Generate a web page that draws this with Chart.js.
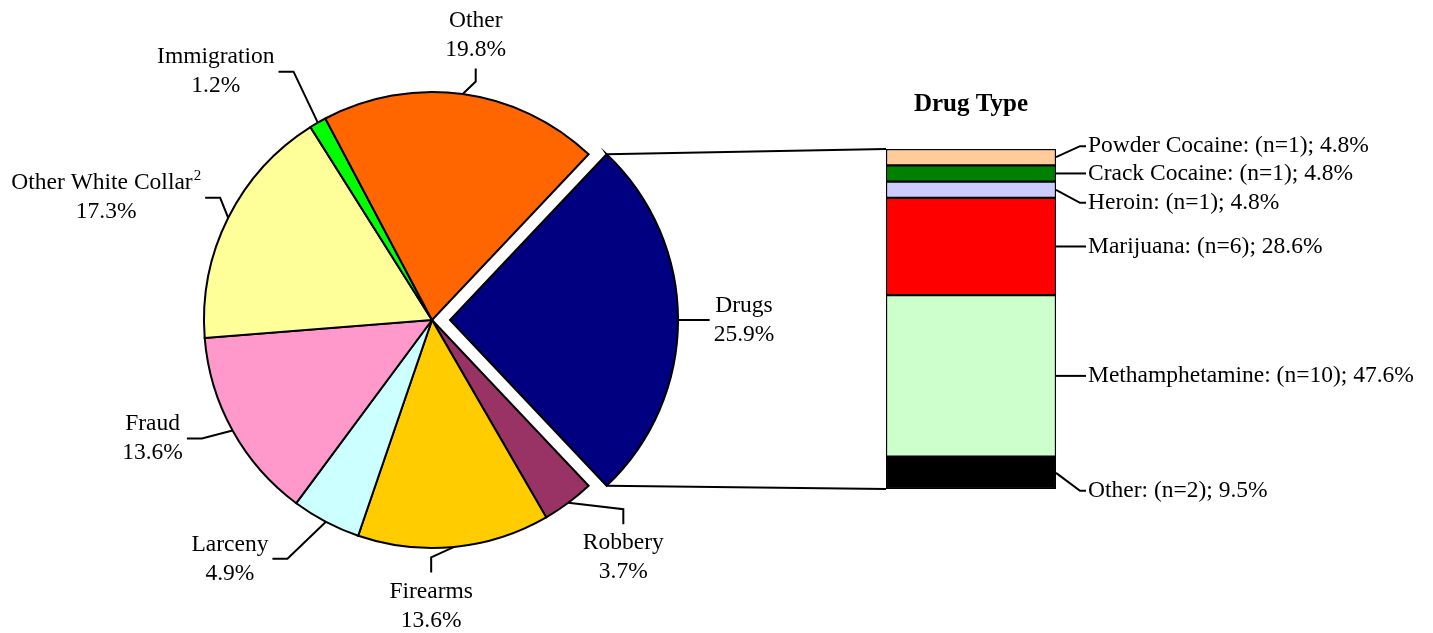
<!DOCTYPE html>
<html>
<head>
<meta charset="utf-8">
<script src="https://cdn.jsdelivr.net/npm/chart.js@4.4.1/dist/chart.umd.min.js"></script>
<style>
  body { margin: 0; background: #fff; }
  #wrap { position: relative; width: 1433px; height: 633px; }
  #wrap canvas { position: absolute; left: 0; top: 0; }
</style>
</head>
<body>
<div id="wrap">
  <canvas id="pie" width="1433" height="633"></canvas>
  <canvas id="drugbar" width="1433" height="633"></canvas>
</div>
<script>
// offense types, clockwise starting from the pulled out slice
var offenses = ["Drugs", "Robbery", "Firearms", "Larceny", "Fraud", "Other White Collar", "Immigration", "Other"];
var offensePct = [25.9, 3.7, 13.6, 4.9, 13.6, 17.3, 1.2, 19.8];
var offenseNote = ["", "", "", "", "", "2", "", ""];
var offenseColors = ["#000080", "#993366", "#FFCC00", "#CCFFFF", "#FF99CC", "#FFFF99", "#00FF00", "#FF6600"];

// drug type split of the Drugs slice, bottom of the bar to the top
var drugTypes = ["Other", "Methamphetamine", "Marijuana", "Heroin", "Crack Cocaine", "Powder Cocaine"];
var drugCounts = [2, 10, 6, 1, 1, 1];
var drugPct = [9.5, 47.6, 28.6, 4.8, 4.8, 4.8];
var drugColors = ["#000000", "#CCFFCC", "#FF0000", "#CCCCFF", "#008000", "#FFCC99"];

var FONT = "23.5px 'Liberation Serif', 'Times New Roman', serif";
var SUPFONT = "15px 'Liberation Serif', 'Times New Roman', serif";

// where each pie label sits, measured from the outer middle of its slice
var pieLabelPos = [
    {dx: 66, dy: 0, side: 'left'},
    {dx: 55, dy: 55, side: 'top'},
    {dx: -23, dy: 59, side: 'top'},
    {dx: -96, dy: 37, side: 'right'},
    {dx: -80, dy: 8, side: 'right'},
    {dx: -122, dy: -20, side: 'right'},
    {dx: -102, dy: -51, side: 'right'},
    {dx: 13, dy: -59, side: 'bottom'}
];
// small vertical nudges so the bar labels do not collide (bottom to top)
var barLabelNudge = [18, 0, 0, 13, 0, -11];

var pieTotal = offensePct.reduce(function(a, b) { return a + b; }, 0);
var drugTotal = drugPct.reduce(function(a, b) { return a + b; }, 0);

var pieLabels = {
    id: 'pieLabels',
    afterDraw: function(chart) {
        var ctx = chart.ctx;
        var meta = chart.getDatasetMeta(0);
        ctx.save();
        ctx.strokeStyle = '#000';
        ctx.fillStyle = '#000';
        ctx.lineWidth = 2;
        ctx.textBaseline = 'middle';
        meta.data.forEach(function(arc, i) {
            var p = arc.getProps(['x', 'y', 'startAngle', 'endAngle', 'outerRadius'], true);
            var mid = (p.startAngle + p.endAngle) / 2;
            var shift = (arc.options.offset || 0) / 4;
            var ax = p.x + Math.cos(mid) * (p.outerRadius + shift);
            var ay = p.y + Math.sin(mid) * (p.outerRadius + shift);
            var L = pieLabelPos[i];
            var cx = ax + L.dx, cy = ay + L.dy;
            var line1 = offenses[i];
            var line2 = offensePct[i].toFixed(1) + '%';
            ctx.font = FONT;
            var w1 = ctx.measureText(line1).width;
            var w2 = ctx.measureText(line2).width;
            var ws = 0;
            if (offenseNote[i]) {
                ctx.font = SUPFONT;
                ws = ctx.measureText(offenseNote[i]).width + 1;
                ctx.font = FONT;
            }
            var w = Math.max(w1 + ws, w2);

            var anchor, elbow;
            if (L.side == 'left') { anchor = [cx - w / 2 - 4, cy]; elbow = [anchor[0] - 15, cy]; }
            if (L.side == 'right') { anchor = [cx + w / 2 + 4, cy]; elbow = [anchor[0] + 15, cy]; }
            if (L.side == 'top') { anchor = [cx, cy - 26.5 - 7]; elbow = [cx, anchor[1] - 15]; }
            if (L.side == 'bottom') { anchor = [cx, cy + 26.5 + 7]; elbow = [cx, anchor[1] + 13]; }
            ctx.beginPath();
            ctx.moveTo(ax, ay);
            ctx.lineTo(elbow[0], elbow[1]);
            ctx.lineTo(anchor[0], anchor[1]);
            ctx.stroke();

            ctx.textAlign = 'left';
            var x1 = cx - (w1 + ws) / 2;
            ctx.fillText(line1, x1, cy - 14.5);
            if (ws) {
                ctx.font = SUPFONT;
                ctx.fillText(offenseNote[i], x1 + w1 + 1, cy - 22);
                ctx.font = FONT;
            }
            ctx.textAlign = 'center';
            ctx.fillText(line2, cx, cy + 14.5);
        });
        ctx.restore();
    }
};

var pieChart = new Chart(document.getElementById('pie'), {
    type: 'pie',
    data: {
        labels: offenses,
        datasets: [{
            data: offensePct,
            backgroundColor: offenseColors,
            borderColor: '#000',
            borderWidth: 2,
            borderJoinStyle: 'miter',
            offset: [72, 0, 0, 0, 0, 0, 0, 0]
        }]
    },
    options: {
        responsive: false,
        animation: false,
        events: [],
        radius: 228,
        rotation: 90 - offensePct[0] / pieTotal * 180,
        layout: {padding: {left: 150, right: 719, top: 80, bottom: 73}},
        plugins: {legend: {display: false}, tooltip: {enabled: false}}
    },
    plugins: [pieLabels]
});

var barNotes = {
    id: 'barNotes',
    afterDraw: function(chart) {
        var ctx = chart.ctx;
        var n = chart.data.datasets.length;
        var bottom = chart.getDatasetMeta(0).data[0];
        var top = chart.getDatasetMeta(n - 1).data[0];
        var left = bottom.x - bottom.width / 2;
        var right = bottom.x + bottom.width / 2;
        ctx.save();
        ctx.strokeStyle = '#000';
        ctx.fillStyle = '#000';
        ctx.lineWidth = 2;

        // lines from the pulled out slice to the bar
        var arc = pieChart.getDatasetMeta(0).data[0];
        var p = arc.getProps(['x', 'y', 'startAngle', 'endAngle', 'outerRadius'], true);
        var mid = (p.startAngle + p.endAngle) / 2;
        var shift = (arc.options.offset || 0) / 4;
        var ox = p.x + Math.cos(mid) * shift, oy = p.y + Math.sin(mid) * shift;
        ctx.beginPath();
        ctx.moveTo(ox + Math.cos(p.startAngle) * p.outerRadius, oy + Math.sin(p.startAngle) * p.outerRadius);
        ctx.lineTo(left, top.y);
        ctx.moveTo(ox + Math.cos(p.endAngle) * p.outerRadius, oy + Math.sin(p.endAngle) * p.outerRadius);
        ctx.lineTo(left, bottom.base);
        ctx.stroke();

        // segment labels
        ctx.font = FONT;
        ctx.textBaseline = 'middle';
        ctx.textAlign = 'left';
        var tx = right + 32;
        for (var i = 0; i < n; i++) {
            var bar = chart.getDatasetMeta(i).data[0];
            var segY = (bar.y + bar.base) / 2;
            var ly = segY + barLabelNudge[i];
            ctx.beginPath();
            ctx.moveTo(right, segY);
            ctx.lineTo(tx - 8, ly);
            ctx.lineTo(tx - 2, ly);
            ctx.stroke();
            ctx.fillText(drugTypes[i] + ': (n=' + drugCounts[i] + '); ' + drugPct[i].toFixed(1) + '%', tx, ly);
        }
        ctx.restore();
    }
};

new Chart(document.getElementById('drugbar'), {
    type: 'bar',
    data: {
        labels: ['Drugs'],
        datasets: drugTypes.map(function(name, i) {
            return {
                label: name,
                data: [drugPct[i]],
                backgroundColor: drugColors[i],
                borderColor: '#000',
                borderWidth: 1.5,
                borderSkipped: false,
                barPercentage: 1,
                categoryPercentage: 1
            };
        })
    },
    options: {
        responsive: false,
        animation: false,
        events: [],
        layout: {padding: {left: 886, right: 377, top: 90, bottom: 144}},
        plugins: {
            legend: {display: false},
            tooltip: {enabled: false},
            title: {
                display: true,
                text: 'Drug Type',
                color: '#000',
                font: {family: "'Liberation Serif', 'Times New Roman', serif", size: 25, weight: 'bold', lineHeight: 1.2},
                padding: {top: 0, bottom: 29}
            }
        },
        scales: {
            x: {stacked: true, display: false},
            y: {stacked: true, display: false, min: 0, max: drugTotal}
        }
    },
    plugins: [barNotes]
});
</script>
</body>
</html>
